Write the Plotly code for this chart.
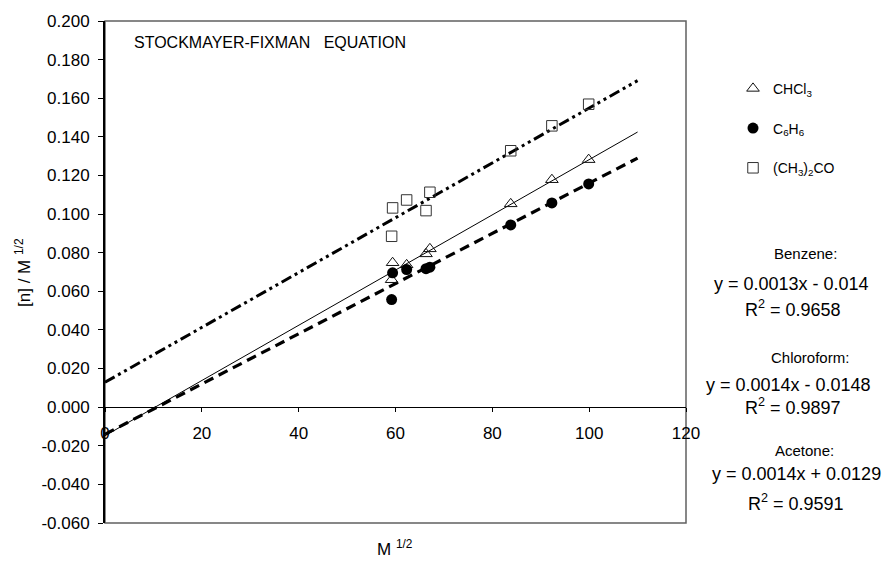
import plotly.graph_objects as go

# ---- data ----
sqrt_m = [59.2, 59.4, 62.3, 66.3, 67.1, 83.8, 92.3, 99.9]
chcl3_y = [0.0660, 0.0748, 0.0737, 0.0794, 0.0820, 0.1053, 0.1178, 0.1282]
benzene_y = [0.0557, 0.0696, 0.0713, 0.0717, 0.0725, 0.0944, 0.1058, 0.1156]
acetone_y = [0.0885, 0.1032, 0.1073, 0.1018, 0.1113, 0.1328, 0.1457, 0.1569]

# linear trendlines (forward-extended to x = 110)
trend_x = [0, 110]
fit_slope = {"benzene": 0.00130, "chloroform": 0.00143, "acetone": 0.00142}
fit_intercept = {"benzene": -0.0140, "chloroform": -0.0148, "acetone": 0.0129}

eq_labels = [
    ("Benzene:", "y = 0.0013x - 0.014", "R<sup>2</sup> = 0.9658"),
    ("Chloroform:", "y = 0.0014x - 0.0148", "R<sup>2</sup> = 0.9897"),
    ("Acetone:", "y = 0.0014x + 0.0129", "R<sup>2</sup> = 0.9591"),
]

x_ticks = [0, 20, 40, 60, 80, 100, 120]
y_ticks = [-0.06, -0.04, -0.02, 0.0, 0.02, 0.04, 0.06, 0.08, 0.10, 0.12, 0.14, 0.16, 0.18, 0.20]

FONT = "Liberation Sans, Arial, sans-serif"

# ---- layout geometry (pixels) ----
W, H = 882, 566
ML, MR, MT, MB = 105, 196, 19, 43
PW, PH = W - ML - MR, H - MT - MB


def px(x):
    return (x - ML) / PW


def py(y):
    return (H - MB - y) / PH


def line_y(key):
    return [fit_slope[key] * x + fit_intercept[key] for x in trend_x]


fig = go.Figure()

# trendlines
fig.add_trace(go.Scatter(x=trend_x, y=line_y("acetone"), mode="lines",
                         line=dict(color="black", width=3, dash="11px,4px,3px,4px,3px,4px"),
                         showlegend=False, hoverinfo="skip"))
fig.add_trace(go.Scatter(x=trend_x, y=line_y("chloroform"), mode="lines",
                         line=dict(color="black", width=1),
                         showlegend=False, hoverinfo="skip"))
fig.add_trace(go.Scatter(x=trend_x, y=line_y("benzene"), mode="lines",
                         line=dict(color="black", width=3.2, dash="10px,6px"),
                         showlegend=False, hoverinfo="skip"))

# markers
fig.add_trace(go.Scatter(x=sqrt_m, y=chcl3_y, mode="markers", name="CHCl<sub>3</sub>",
                         legendgroup="a",
                         marker=dict(symbol="triangle-up-open", size=11, color="#111",
                                     line=dict(width=1, color="#111"))))
fig.add_trace(go.Scatter(x=sqrt_m, y=benzene_y, mode="markers", name="C<sub>6</sub>H<sub>6</sub>",
                         legendgroup="b",
                         marker=dict(symbol="circle", size=11, color="black",
                                     line=dict(width=0))))
fig.add_trace(go.Scatter(x=sqrt_m, y=acetone_y, mode="markers", name="(CH<sub>3</sub>)<sub>2</sub>CO",
                         legendgroup="c",
                         marker=dict(symbol="square-open", size=10.5, color="#333",
                                     line=dict(width=1, color="#333"))))

zero_pos = py(407)

fig.update_layout(
    width=W, height=H,
    margin=dict(l=ML, r=MR, t=MT, b=MB),
    paper_bgcolor="white", plot_bgcolor="white",
    font=dict(family=FONT, color="black", size=17),
    xaxis=dict(range=[0, 120], tickvals=x_ticks, ticktext=[str(v) for v in x_ticks],
               showgrid=False, zeroline=False, showline=True, linecolor="black", linewidth=1,
               ticks="outside", ticklen=4, tickwidth=1, tickcolor="black",
               ticklabelstandoff=6,
               anchor="free", position=zero_pos, tickfont=dict(size=17)),
    xaxis2=dict(range=[0, 120], tickvals=x_ticks, overlaying="x", showgrid=False,
                zeroline=False, showline=False, ticks="inside", ticklen=4, tickwidth=1,
                tickcolor="black", showticklabels=False, anchor="free", position=zero_pos),
    yaxis=dict(range=[-0.06, 0.2], tickvals=y_ticks, ticktext=[f"{v:.3f}" for v in y_ticks],
               showgrid=False, zeroline=False, showline=True, linecolor="black", linewidth=2,
               ticks="outside", ticklen=5, tickwidth=1, tickcolor="black",
               ticklabelstandoff=5, tickfont=dict(size=17)),
    yaxis2=dict(range=[-0.06, 0.2], tickvals=y_ticks, overlaying="y", showgrid=False,
                zeroline=False, showline=False, ticks="inside", ticklen=5, tickwidth=1,
                tickcolor="black", showticklabels=False),
    legend=dict(x=px(733), y=py(71), xanchor="left", yanchor="top",
                font=dict(size=14, family=FONT), tracegroupgap=18.5,
                bgcolor="rgba(0,0,0,0)", itemsizing="trace"),
    showlegend=True,
)

# plot-area border
fig.add_shape(type="rect", xref="paper", yref="paper", x0=0, x1=1, y0=0, y1=1,
              line=dict(color="#606060", width=1.5), layer="below")

annotations = []
annotations.append(dict(text="STOCKMAYER-FIXMAN\u00a0\u00a0\u00a0EQUATION", x=px(132), y=py(41),
                        xanchor="left", yanchor="middle", font=dict(size=16)))
annotations.append(dict(text="M <sup>1/2</sup>", x=px(395), y=py(548),
                        xanchor="center", yanchor="middle", font=dict(size=17)))
annotations.append(dict(text="[n] / M <sup>1/2</sup>", x=px(23), y=py(272), textangle=-90,
                        xanchor="center", yanchor="middle", font=dict(size=17)))

eq_pos = [
    ((805, 252), (792, 283), (793, 308)),
    ((810, 357), (788, 384), (793, 406)),
    ((804, 450), (796, 474), (796, 502)),
]
for (name, eq, r2), (p1, p2, p3) in zip(eq_labels, eq_pos):
    annotations.append(dict(text=name, x=px(p1[0]), y=py(p1[1]), xanchor="center",
                            yanchor="middle", font=dict(size=15)))
    annotations.append(dict(text=eq, x=px(p2[0]), y=py(p2[1]), xanchor="center",
                            yanchor="middle", font=dict(size=18)))
    annotations.append(dict(text=r2, x=px(p3[0]), y=py(p3[1]), xanchor="center",
                            yanchor="middle", font=dict(size=18)))

for a in annotations:
    a.update(xref="paper", yref="paper", showarrow=False)
fig.update_layout(annotations=annotations)

fig.write_html("out.html", config={"displayModeBar": False},
               post_script="document.body.style.margin='0px';")
